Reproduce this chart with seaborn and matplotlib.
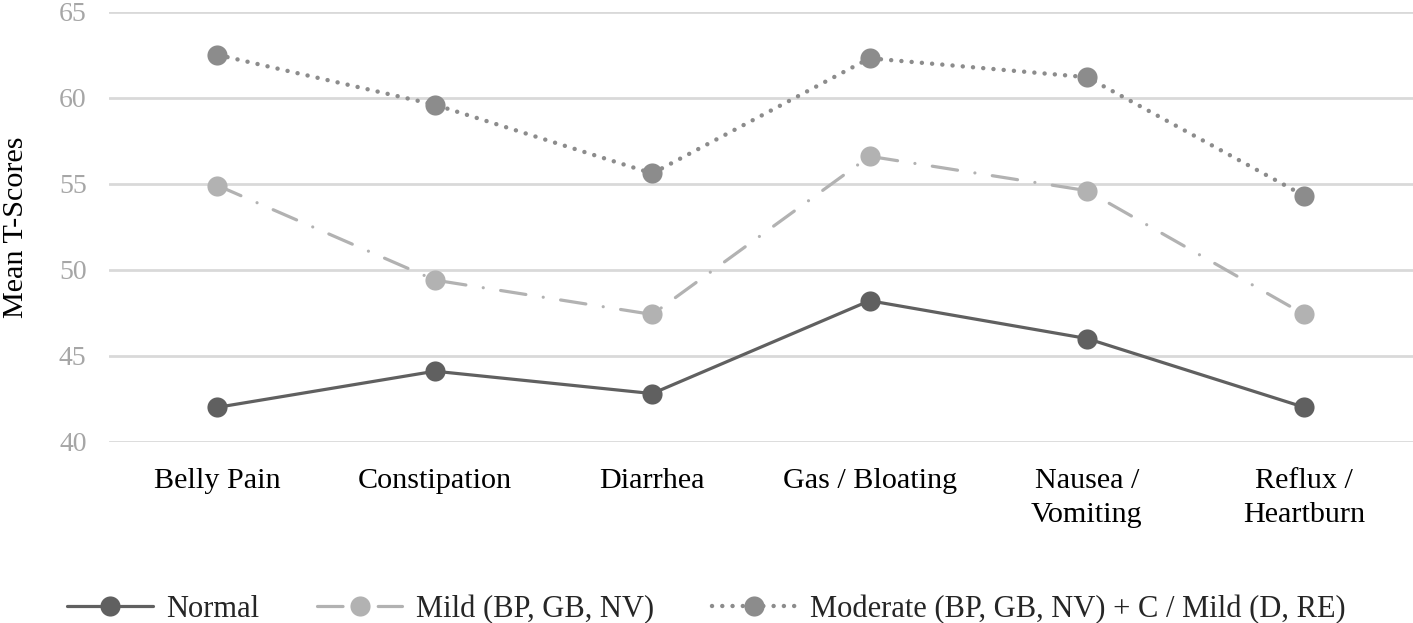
import pandas as pd
import matplotlib
matplotlib.use("Agg")
import matplotlib.pyplot as plt
import seaborn as sns

# --- data ---
categories = ["Belly Pain", "Constipation", "Diarrhea", "Gas / Bloating",
              "Nausea /\nVomiting", "Reflux /\nHeartburn"]
normal = [42.0, 44.1, 42.8, 48.2, 46.0, 42.0]
mild = [54.9, 49.4, 47.4, 56.6, 54.6, 47.4]
moderate = [62.5, 59.6, 55.6, 62.3, 61.2, 54.3]
series_names = ["Normal", "Mild (BP, GB, NV)", "Moderate (BP, GB, NV) + C / Mild (D, RE)"]

df = pd.DataFrame({
    "category": categories * 3,
    "score": normal + mild + moderate,
    "group": [series_names[0]] * 6 + [series_names[1]] * 6 + [series_names[2]] * 6,
})

sns.set_theme(style="white")
plt.rcParams["font.family"] = ["Liberation Serif", "DejaVu Serif"]

palette = {series_names[0]: "#606060", series_names[1]: "#b2b2b2", series_names[2]: "#8c8c8c"}
dashes = {series_names[0]: "", series_names[1]: (8, 5.5, 0.01, 5.5), series_names[2]: (0.01, 2.3)}
widths = {series_names[0]: 2.3, series_names[1]: 2.3, series_names[2]: 3.2}

fig = plt.figure(figsize=(14.13, 6.23), dpi=100)
ax = fig.add_axes([0.077, 0.291, 0.923, 0.690])

sns.lineplot(data=df, x="category", y="score", hue="group", style="group",
             size="group", sizes=widths,
             palette=palette, dashes=dashes, markers={k: "o" for k in series_names},
             markersize=14.5, markeredgewidth=0, dash_capstyle="round",
             sort=False, ax=ax)

ax.set_ylim(40, 65)
ax.set_yticks([40, 45, 50, 55, 60, 65])
ax.set_xlim(-0.5, 5.5)
ax.grid(axis="y", color="#d9d9d9", linewidth=2)
ax.set_axisbelow(True)
sns.despine(ax=ax, left=True, bottom=True)
ax.tick_params(axis="y", length=0, pad=16, labelsize=20, labelcolor="#a6a6a6")
ax.tick_params(axis="x", length=0, pad=19, labelsize=21.7, labelcolor="black")
for lbl in ax.get_xticklabels():
    lbl.set_linespacing(1.4)
ax.set_xlabel("")
ax.set_ylabel("Mean T-Scores", fontsize=21.7, color="black")
ax.yaxis.set_label_coords(-0.061, 0.5)

handles, labels = ax.get_legend_handles_labels()
ax.get_legend().remove()
fig.legend(handles, labels, loc="center", bbox_to_anchor=(0.5, 0.022), ncol=3,
           frameon=False, fontsize=22, handlelength=2.8, columnspacing=1.9,
           handletextpad=0.43)

fig.savefig("out.png", dpi=100)
